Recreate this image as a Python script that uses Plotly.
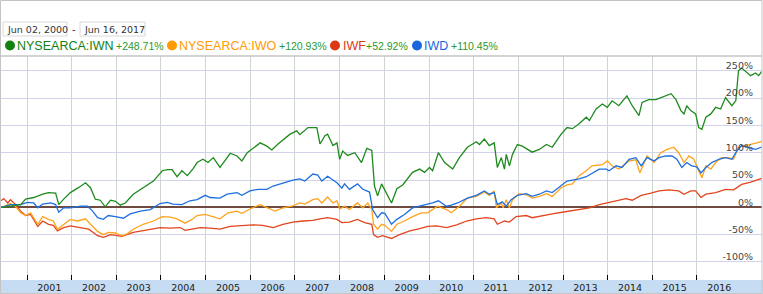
import pandas as pd
import plotly.graph_objects as go

# ---------------- data (fractional years, % change) ----------------
iwn_t = [2000.43, 2000.86, 2000.97, 2001.15, 2001.35, 2001.48, 2001.64, 2001.71, 2001.82, 2001.97,
         2002.15, 2002.31, 2002.42, 2002.53, 2002.64, 2002.75, 2002.87, 2002.98, 2003.09, 2003.20,
         2003.38, 2003.60, 2003.83, 2004.03, 2004.14, 2004.25, 2004.36, 2004.47, 2004.59, 2004.72,
         2004.81, 2004.94, 2005.05, 2005.17, 2005.32, 2005.55, 2005.70, 2005.81, 2005.93, 2006.22,
         2006.37, 2006.48, 2006.62, 2006.89, 2007.04, 2007.11, 2007.29, 2007.49, 2007.56, 2007.67,
         2007.73, 2007.85, 2007.94, 2008.00, 2008.07, 2008.18, 2008.34, 2008.49, 2008.61, 2008.72,
         2008.78, 2008.85, 2008.94, 2009.16, 2009.28, 2009.41, 2009.63, 2009.79, 2009.90, 2010.01,
         2010.08, 2010.21, 2010.35, 2010.53, 2010.68, 2010.86, 2011.06, 2011.13, 2011.24, 2011.35,
         2011.46, 2011.53, 2011.62, 2011.69, 2011.73, 2011.80, 2011.87, 2011.98, 2012.09, 2012.31,
         2012.47, 2012.63, 2012.76, 2012.96, 2013.09, 2013.21, 2013.36, 2013.52, 2013.59, 2013.74,
         2013.88, 2013.99, 2014.10, 2014.25, 2014.43, 2014.55, 2014.70, 2014.77, 2014.92, 2015.08,
         2015.21, 2015.42, 2015.53, 2015.64, 2015.71, 2015.77, 2015.86, 2015.97, 2016.04, 2016.11,
         2016.20, 2016.31, 2016.42, 2016.53, 2016.64, 2016.78, 2016.87, 2016.93, 2017.00, 2017.20,
         2017.31, 2017.38, 2017.45]
iwn_v = [0, 5, 15, 18, 24, 27, 26, 5, 15, 27,
         36, 45, 36, 15, 13, 1, 13, 11, 4, 8,
         24, 36, 48, 67, 69, 69, 56, 67, 58, 71,
         82, 88, 82, 91, 73, 99, 94, 85, 100, 118,
         112, 105, 116, 134, 140, 133, 146, 146, 116, 131,
         134, 113, 118, 88, 103, 95, 100, 82, 108, 104,
         39, 21, 43, 8, 34, 41, 64, 70, 64, 73,
         67, 100, 82, 70, 91, 110, 120, 115, 125, 113,
         118, 73, 91, 70, 97, 76, 97, 115, 112, 101,
         106, 115, 110, 134, 146, 144, 153, 165, 159, 180,
         189, 183, 195, 186, 204, 186, 168, 192, 197, 197,
         201, 208, 197, 177, 171, 186, 177, 171, 146, 143,
         165, 171, 183, 180, 201, 186, 195, 250, 255, 241,
         246, 241, 248.71]

iwo_t = [2000.43, 2000.63, 2000.75, 2000.86, 2000.97, 2001.08, 2001.24, 2001.35, 2001.48, 2001.59,
         2001.68, 2001.82, 2001.97, 2002.13, 2002.31, 2002.42, 2002.58, 2002.71, 2002.82, 2002.98,
         2003.13, 2003.25, 2003.38, 2003.60, 2003.83, 2004.03, 2004.21, 2004.36, 2004.54, 2004.72,
         2004.81, 2004.99, 2005.10, 2005.32, 2005.50, 2005.70, 2005.81, 2005.99, 2006.22, 2006.40,
         2006.55, 2006.73, 2006.93, 2007.11, 2007.22, 2007.40, 2007.51, 2007.60, 2007.73, 2007.85,
         2007.94, 2008.00, 2008.11, 2008.22, 2008.40, 2008.52, 2008.63, 2008.72, 2008.76, 2008.85,
         2008.94, 2009.01, 2009.16, 2009.28, 2009.45, 2009.63, 2009.83, 2009.97, 2010.08, 2010.19,
         2010.39, 2010.50, 2010.68, 2010.86, 2011.06, 2011.24, 2011.35, 2011.46, 2011.51, 2011.62,
         2011.66, 2011.73, 2011.80, 2011.87, 2012.02, 2012.18, 2012.31, 2012.47, 2012.63, 2012.76,
         2012.96, 2013.09, 2013.21, 2013.36, 2013.52, 2013.65, 2013.88, 2013.99, 2014.10, 2014.25,
         2014.48, 2014.63, 2014.72, 2014.88, 2015.04, 2015.19, 2015.33, 2015.48, 2015.59, 2015.71,
         2015.82, 2015.93, 2016.04, 2016.11, 2016.20, 2016.31, 2016.42, 2016.55, 2016.71, 2016.82,
         2016.93, 2017.09, 2017.23, 2017.34, 2017.45]
iwo_v = [0, 7, 1, -10, -15, -10, -31, -17, -22, -25,
         -40, -31, -22, -25, -21, -31, -44, -50, -46, -47,
         -52, -48, -40, -31, -25, -17, -18, -21, -29, -21,
         -15, -13, -16, -21, -10, -7, -11, -3, 5, -1,
         -7, -1, 2, 8, 6, 14, 16, 8, 19, 8,
         12, -3, 2, -4, 8, -1, 8, -4, -31, -40,
         -31, -33, -44, -31, -25, -17, -10, -10, -4, 2,
         -4, -10, 2, 17, 20, 28, 22, 30, -1, 8,
         -1, 14, -1, 14, 25, 23, 17, 20, 25, 20,
         36, 41, 43, 58, 67, 76, 78, 85, 76, 70,
         85, 87, 63, 94, 82, 100, 106, 110, 100, 82,
         94, 88, 67, 54, 76, 70, 82, 91, 91, 88,
         110, 113, 115, 118, 120.93]

iwf_t = [2000.42, 2000.48, 2000.57, 2000.63, 2000.75, 2000.86, 2000.97, 2001.08, 2001.24, 2001.35,
         2001.48, 2001.59, 2001.68, 2001.82, 2001.97, 2002.20, 2002.38, 2002.58, 2002.71, 2002.87,
         2003.02, 2003.13, 2003.38, 2003.69, 2003.98, 2004.21, 2004.43, 2004.54, 2004.72, 2004.88,
         2005.10, 2005.32, 2005.55, 2005.84, 2006.06, 2006.28, 2006.51, 2006.73, 2006.95, 2007.18,
         2007.40, 2007.56, 2007.73, 2007.94, 2008.05, 2008.22, 2008.40, 2008.56, 2008.72, 2008.76,
         2008.85, 2008.96, 2009.16, 2009.34, 2009.57, 2009.79, 2009.97, 2010.17, 2010.39, 2010.62,
         2010.84, 2011.06, 2011.28, 2011.46, 2011.53, 2011.69, 2011.80, 2011.95, 2012.18, 2012.31,
         2012.54, 2012.76, 2012.98, 2013.21, 2013.36, 2013.59, 2013.81, 2014.03, 2014.25, 2014.41,
         2014.55, 2014.75, 2014.97, 2015.15, 2015.37, 2015.59, 2015.71, 2015.86, 2015.97, 2016.09,
         2016.20, 2016.42, 2016.64, 2016.82, 2017.00, 2017.20, 2017.45]
iwf_v = [12, 16, 8, 14, 5, -7, -15, -13, -35, -25,
         -31, -33, -43, -37, -34, -37, -40, -52, -55, -50,
         -52, -53, -46, -42, -37, -38, -37, -42, -40, -37,
         -38, -40, -35, -34, -32, -33, -37, -31, -27, -25,
         -24, -21, -19, -22, -28, -27, -22, -28, -31, -50,
         -55, -52, -57, -50, -43, -39, -35, -34, -37, -32,
         -25, -21, -19, -21, -31, -25, -27, -17, -15, -19,
         -15, -12, -9, -6, -3, -1, 5, 9, 14, 16,
         13, 22, 26, 30, 32, 30, 24, 30, 30, 18,
         24, 27, 33, 32, 42, 46, 52.92]

iwd_t = [2000.43, 2000.63, 2000.86, 2001.01, 2001.15, 2001.24, 2001.35, 2001.53, 2001.64, 2001.71,
         2001.82, 2001.97, 2002.20, 2002.35, 2002.46, 2002.58, 2002.71, 2002.82, 2002.98, 2003.16,
         2003.31, 2003.54, 2003.76, 2003.98, 2004.14, 2004.27, 2004.47, 2004.65, 2004.81, 2004.99,
         2005.10, 2005.32, 2005.48, 2005.70, 2005.81, 2005.99, 2006.17, 2006.37, 2006.51, 2006.73,
         2006.95, 2007.11, 2007.22, 2007.40, 2007.51, 2007.60, 2007.73, 2007.94, 2008.05, 2008.11,
         2008.22, 2008.40, 2008.52, 2008.67, 2008.74, 2008.85, 2008.94, 2009.01, 2009.16, 2009.28,
         2009.45, 2009.63, 2009.79, 2009.94, 2010.08, 2010.21, 2010.39, 2010.50, 2010.64, 2010.86,
         2011.06, 2011.24, 2011.35, 2011.46, 2011.53, 2011.64, 2011.73, 2011.84, 2011.98, 2012.18,
         2012.31, 2012.47, 2012.63, 2012.76, 2012.96, 2013.09, 2013.21, 2013.36, 2013.52, 2013.65,
         2013.81, 2013.97, 2014.03, 2014.19, 2014.32, 2014.48, 2014.63, 2014.75, 2014.88, 2015.04,
         2015.15, 2015.30, 2015.44, 2015.55, 2015.66, 2015.77, 2015.88, 2016.00, 2016.09, 2016.20,
         2016.33, 2016.49, 2016.64, 2016.78, 2016.89, 2017.00, 2017.16, 2017.31, 2017.45]
iwd_v = [0, 5, 5, 9, 8, -1, 6, 8, 5, -9,
         -1, -1, 2, 2, -6, -19, -22, -15, -17, -20,
         -12, -7, -4, 7, 9, 6, 5, 12, 14, 22,
         18, 17, 24, 27, 22, 30, 33, 33, 39, 45,
         50, 52, 48, 61, 59, 48, 57, 45, 35, 43,
         33, 43, 33, 28, -4, -19, -10, -11, -31, -22,
         -13, -1, 2, 5, 8, 12, 2, 4, 8, 17,
         22, 30, 24, 27, 5, 10, 2, 14, 22, 25,
         20, 24, 30, 27, 39, 48, 50, 52, 56, 63,
         70, 70, 67, 76, 73, 88, 91, 76, 91, 85,
         91, 94, 94, 88, 73, 82, 76, 74, 63, 73,
         82, 88, 91, 88, 103, 113, 110, 106, 110.45]

names = ["NYSEARCA:IWN", "NYSEARCA:IWO", "IWF", "IWD"]
changes = ["+248.71%", "+120.93%", "+52.92%", "+110.45%"]
start_label = "Jun 02, 2000"
end_label = "Jun 16, 2017"
y_ticks = [-100, -50, 0, 50, 100, 150, 200, 250]
y_tick_text = ["-100%", "-50%", "0%", "50%", "100%", "150%", "200%", "250%"]

line_colors = ["#1e8a1e", "#ffa21c", "#e2451e", "#1f6fe0"]
name_colors = ["#128212", "#ff9a00", "#dc3912", "#1766dd"]


def to_dates(fracs):
    out = []
    for f in fracs:
        yr = int(f)
        out.append(pd.Timestamp(year=yr, month=1, day=1) + pd.Timedelta(days=(f - yr) * 365.25))
    return out


series = [(iwn_t, iwn_v), (iwo_t, iwo_v), (iwf_t, iwf_v), (iwd_t, iwd_v)]
draw_order = [2, 1, 3, 0]

fig = go.Figure()
for i in draw_order:
    t, v = series[i]
    fig.add_trace(go.Scatter(x=to_dates(t), y=v, mode="lines", name=names[i],
                             line=dict(color=line_colors[i], width=1.3), showlegend=False))

W, H = 763, 294
L, R, T, B = 1, 1, 56, 14
PW, PH = W - L - R, H - T - B


def px(x):
    return (x - L) / PW


def py(y):
    return (H - B - y) / PH


shapes = []
# bottom band
shapes.append(dict(type="rect", xref="paper", yref="paper", x0=px(0), x1=px(W), y0=py(H), y1=py(H - B),
                   fillcolor="#c6dcf3", line=dict(width=0), layer="below"))
# outer widget border
shapes.append(dict(type="rect", xref="paper", yref="paper", x0=px(0.5), x1=px(762), y0=py(293.5), y1=py(0.5),
                   fillcolor="rgba(0,0,0,0)", line=dict(color="#c4c4c4", width=1), layer="above"))
# plot top line
shapes.append(dict(type="line", xref="paper", yref="paper", x0=px(0), x1=px(762), y0=py(56), y1=py(56),
                   line=dict(color="#c4c4c4", width=1.5), layer="above"))
# date boxes
for (x0, x1) in [(3, 67), (80, 145)]:
    shapes.append(dict(type="rect", xref="paper", yref="paper", x0=px(x0), x1=px(x1), y0=py(36), y1=py(22),
                       fillcolor="white", line=dict(color="#d8d8d8", width=1)))
# legend dots
dot_x = [10, 172, 335, 417]
for cx, c in zip(dot_x, name_colors):
    shapes.append(dict(type="circle", xref="paper", yref="paper", x0=px(cx - 5), x1=px(cx + 5),
                       y0=py(50.5), y1=py(40.5), fillcolor=c, line=dict(width=0)))

ann = []
ann.append(dict(x=px(5), y=py(29), text=start_label, xanchor="left", yanchor="middle", showarrow=False,
                font=dict(family="DejaVu Sans", size=9.5, color="#333")))
ann.append(dict(x=px(74), y=py(29), text="-", xanchor="center", yanchor="middle", showarrow=False,
                font=dict(family="DejaVu Sans", size=10, color="#333")))
ann.append(dict(x=px(82), y=py(29), text=end_label, xanchor="left", yanchor="middle", showarrow=False,
                font=dict(family="DejaVu Sans", size=9.5, color="#333")))
name_x = [15, 177, 341, 422]
pct_x = [114, 277, 364, 449]
for i in range(4):
    ann.append(dict(x=px(name_x[i]), y=py(45.5), text=names[i], xanchor="left", yanchor="middle",
                    showarrow=False, font=dict(family="Liberation Sans", size=12.5, color=name_colors[i])))
    ann.append(dict(x=px(pct_x[i]), y=py(46), text=changes[i], xanchor="left", yanchor="middle",
                    showarrow=False, font=dict(family="Liberation Sans", size=10.5, color="#2a9a2a")))
for a in ann:
    a["xref"] = "paper"
    a["yref"] = "paper"

fig.update_layout(
    width=W, height=H,
    margin=dict(l=L, r=R, t=T, b=B, pad=0),
    paper_bgcolor="white", plot_bgcolor="white",
    shapes=shapes, annotations=ann,
    xaxis=dict(type="date", range=["2000-06-02", "2017-06-16"], tick0="2001-01-01", dtick="M12",
               tickformat="%Y", ticklabelmode="period", ticks="inside", ticklen=5, tickcolor="#000",
               tickwidth=1, showgrid=True, gridcolor="#cdd5cd", gridwidth=1, showline=False,
               zeroline=False, tickfont=dict(family="DejaVu Sans", size=9.5, color="#222"), fixedrange=True),
    yaxis=dict(range=[-133, 277], tickvals=y_ticks, ticktext=y_tick_text, side="right",
               ticklabelposition="inside", ticks="", showgrid=True, gridcolor="#d2d2ec", gridwidth=1,
               zeroline=True, zerolinecolor="#6e4a40", zerolinewidth=1.5, showline=False,
               ticklabelstandoff=6, ticklabelshift=-5,
               tickfont=dict(family="DejaVu Sans", size=9.5, color="#444"), fixedrange=True),
    hovermode=False,
)

fig.write_html("out.html")
